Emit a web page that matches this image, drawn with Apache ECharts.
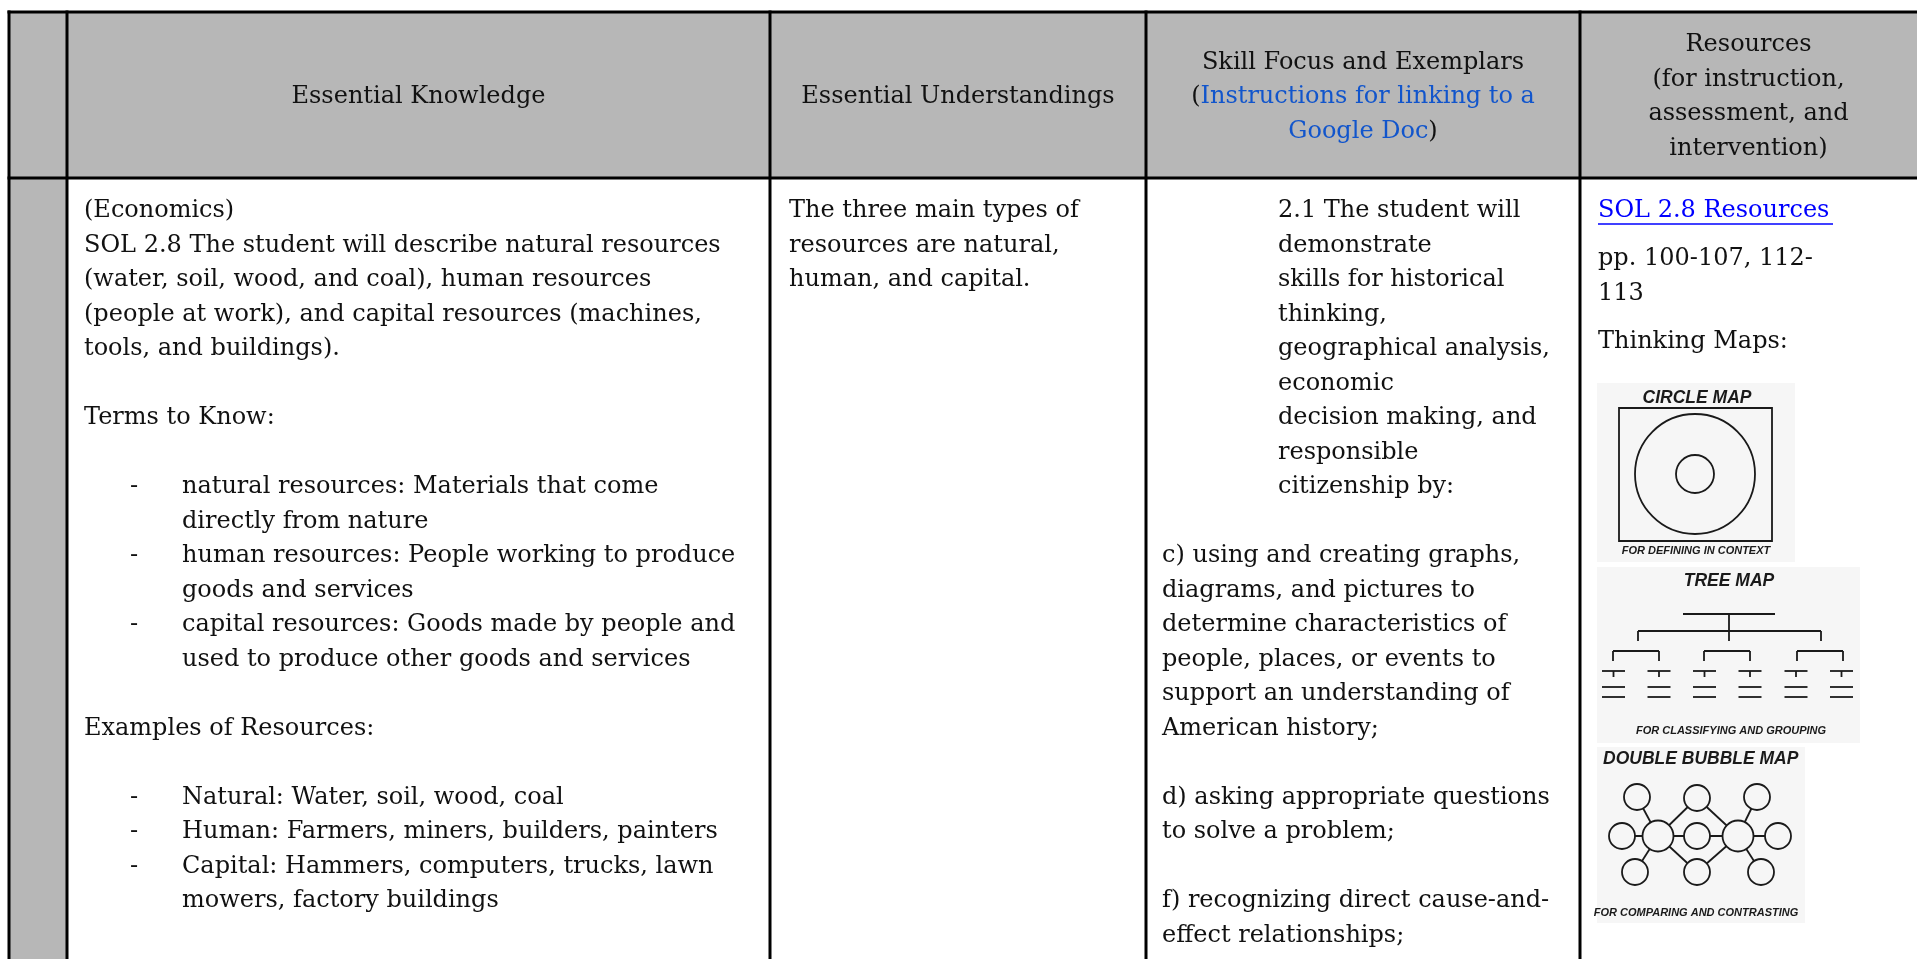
<!DOCTYPE html>
<html><head><meta charset="utf-8">
<script src="https://cdn.jsdelivr.net/npm/echarts@6/dist/echarts.min.js"></script>
<style>html,body{margin:0;padding:0;background:#fff;}#c{width:1917px;height:959px;}</style>
</head><body><div id="c"></div>
<script>
// ---------- content ----------
const headerKnowledge = ['Essential Knowledge'];
const headerUnderstanding = ['Essential Understandings'];
const headerSkill = ['Skill Focus and Exemplars', '({link|Instructions for linking to a}', '{link|Google Doc})'];
const headerResources = ['Resources', '(for instruction,', 'assessment, and', 'intervention)'];

const knowledgeIntro = ['(Economics)', 'SOL 2.8 The student will describe natural resources',
  '(water, soil, wood, and coal), human resources',
  '(people at work), and capital resources (machines,', 'tools, and buildings).'];
const termsTitle = 'Terms to Know:';
const terms = [
  ['natural resources: Materials that come', 'directly from nature'],
  ['human resources: People working to produce', 'goods and services'],
  ['capital resources: Goods made by people and', 'used to produce other goods and services']
];
const examplesTitle = 'Examples of Resources:';
const examples = [
  ['Natural: Water, soil, wood, coal'],
  ['Human: Farmers, miners, builders, painters'],
  ['Capital: Hammers, computers, trucks, lawn', 'mowers, factory buildings']
];

const understandingLines = ['The three main types of', 'resources are natural,', 'human, and capital.'];

const skillIntro = ['2.1 The student will', 'demonstrate', 'skills for historical', 'thinking,',
  'geographical analysis,', 'economic', 'decision making, and', 'responsible', 'citizenship by:'];
const skillItems = [
  ['c) using and creating graphs,', 'diagrams, and pictures to', 'determine characteristics of',
   'people, places, or events to', 'support an understanding of', 'American history;'],
  ['d) asking appropriate questions', 'to solve a problem;'],
  ['f) recognizing direct cause-and-', 'effect relationships;']
];

const resourceLink = 'SOL 2.8 Resources ';
const resourcePages = ['pp. 100-107, 112-', '113'];
const resourceMapsTitle = 'Thinking Maps:';
const mapTitles = ['CIRCLE MAP', 'TREE MAP', 'DOUBLE BUBBLE MAP'];
const mapCaptions = ['FOR DEFINING IN CONTEXT', 'FOR CLASSIFYING AND GROUPING', 'FOR COMPARING AND CONTRASTING'];

// ---------- layout / style ----------
const W = 1917, H = 959;
const colX = [9, 67, 770, 1146, 1580];
const topY = 12, headY = 178;
const GRAY = '#b7b7b7', INK = '#111111', LINK_HDR = '#1155cc', LINK = '#0000ff';
const FONT = "'DejaVu Serif', serif";
const FS = 24, L = 34.5, Y0 = 211;
const MAPFONT = "'Liberation Sans', Arial, sans-serif";

const els = [];
function txt(x, y, text, opt) {
  opt = opt || {};
  els.push({
    type: 'text', x: x, y: y, z: 5,
    style: Object.assign({
      text: text, fill: INK, font: FS + 'px ' + FONT,
      align: opt.align || 'left', verticalAlign: 'middle'
    }, opt.style || {})
  });
}
function line(x1, y1, x2, y2, w, c, z) {
  els.push({type: 'line', z: z || 10, shape: {x1: x1, y1: y1, x2: x2, y2: y2},
    style: {stroke: c || '#000', lineWidth: w || 3}});
}

// backgrounds
els.push({type: 'rect', z: 1, shape: {x: colX[0], y: topY, width: W - colX[0], height: headY - topY}, style: {fill: GRAY}});
els.push({type: 'rect', z: 1, shape: {x: colX[0], y: headY, width: colX[1] - colX[0], height: H - headY}, style: {fill: GRAY}});

// grid lines
line(colX[0] - 1.5, topY, W, topY, 3);
line(colX[0] - 1.5, headY, W, headY, 3);
colX.forEach(x => line(x, topY - 1.5, x, H, 3));

// headers
const headMid = (topY + headY) / 2 + 2;
function headBlock(lines, cx) {
  const n = lines.length;
  lines.forEach((s, i) => {
    els.push({
      type: 'text', x: cx, y: headMid + (i - (n - 1) / 2) * L, z: 5,
      style: {
        text: s, fill: INK, font: FS + 'px ' + FONT, align: 'center', verticalAlign: 'middle',
        rich: {link: {fill: LINK_HDR, fontSize: FS, fontFamily: FONT}}
      }
    });
  });
}
headBlock(headerKnowledge, (colX[1] + colX[2]) / 2);
headBlock(headerUnderstanding, (colX[2] + colX[3]) / 2);
headBlock(headerSkill, (colX[3] + colX[4]) / 2);
headBlock(headerResources, (colX[4] + W) / 2);

// column 1
const c1x = 84, dashX = 130, bulletX = 182;
let slot = 0;
knowledgeIntro.forEach(s => { txt(c1x, Y0 + slot * L, s); slot++; });
slot++;
txt(c1x, Y0 + slot * L, termsTitle); slot += 2;
terms.forEach(item => {
  txt(dashX, Y0 + slot * L, '-');
  item.forEach(s => { txt(bulletX, Y0 + slot * L, s); slot++; });
});
slot++;
txt(c1x, Y0 + slot * L, examplesTitle); slot += 2;
examples.forEach(item => {
  txt(dashX, Y0 + slot * L, '-');
  item.forEach(s => { txt(bulletX, Y0 + slot * L, s); slot++; });
});

// column 2
understandingLines.forEach((s, i) => txt(789, Y0 + i * L, s));

// column 3
skillIntro.forEach((s, i) => txt(1278, Y0 + i * L, s));
slot = skillIntro.length + 1;
skillItems.forEach(item => {
  item.forEach(s => { txt(1162, Y0 + slot * L, s); slot++; });
  slot++;
});

// column 4
const c4x = 1598;
txt(c4x, Y0, resourceLink, {style: {fill: LINK}});
(function () {
  const cv = document.createElement('canvas').getContext('2d');
  cv.font = FS + 'px ' + FONT;
  const w = cv.measureText(resourceLink).width;
  line(c4x, Y0 + 13, c4x + w - 4, Y0 + 13, 1.5, LINK, 6);
})();
txt(c4x, Y0 + 48, resourcePages[0]);
txt(c4x, Y0 + 48 + L, resourcePages[1]);
txt(c4x, Y0 + 131, resourceMapsTitle);

// ---------- thinking map illustrations ----------
const STK = '#1a1a1a', MAPBG = '#f6f6f6';
function mapText(ox, oy, x, y, s, size, align) {
  els.push({type: 'text', x: ox + x, y: oy + y, z: 8,
    style: {text: s, fill: STK, font: 'italic bold ' + size + 'px ' + MAPFONT,
      align: align || 'center', verticalAlign: 'middle'}});
}
function mline(ox, oy, x1, y1, x2, y2) { line(ox + x1, oy + y1, ox + x2, oy + y2, 1.8, STK, 7); }
function mcircle(ox, oy, cx, cy, r) {
  els.push({type: 'circle', z: 8, shape: {cx: ox + cx, cy: oy + cy, r: r},
    style: {fill: MAPBG, stroke: STK, lineWidth: 1.8}});
}
function mbg(ox, oy, w, h) {
  els.push({type: 'rect', z: 2, shape: {x: ox, y: oy, width: w, height: h}, style: {fill: MAPBG}});
}

// circle map
(function () {
  const ox = 1597, oy = 383;
  mbg(ox, oy, 198, 179);
  mapText(ox, oy, 100, 15, mapTitles[0], 17.5);
  els.push({type: 'rect', z: 7, shape: {x: ox + 22, y: oy + 25, width: 153, height: 133},
    style: {fill: 'none', stroke: STK, lineWidth: 1.8}});
  mcircle(ox, oy, 98, 91, 60);
  mcircle(ox, oy, 98, 91, 19);
  mapText(ox, oy, 99, 168, mapCaptions[0], 11);
})();

// tree map
(function () {
  const ox = 1597, oy = 567;
  mbg(ox, oy, 263, 176);
  mapText(ox, oy, 132, 14, mapTitles[1], 17.5);
  mline(ox, oy, 86, 47, 178, 47);
  mline(ox, oy, 132, 47, 132, 74);
  mline(ox, oy, 41, 64, 224, 64);
  mline(ox, oy, 41, 64, 41, 74);
  mline(ox, oy, 224, 64, 224, 74);
  [[16, 62], [107, 153], [200, 246]].forEach(b => {
    mline(ox, oy, b[0], 84, b[1], 84);
    mline(ox, oy, b[0], 84, b[0], 94);
    mline(ox, oy, b[1], 84, b[1], 94);
  });
  [16.5, 62, 107.5, 153, 199, 244.5].forEach(c => {
    mline(ox, oy, c - 11.5, 104, c + 11.5, 104);
    mline(ox, oy, c, 104, c, 110);
    mline(ox, oy, c - 11.5, 120, c + 11.5, 120);
    mline(ox, oy, c - 11.5, 130, c + 11.5, 130);
  });
  mapText(ox, oy, 134, 164, mapCaptions[1], 11);
})();

// double bubble map
(function () {
  const ox = 1597, oy = 747;
  mbg(ox, oy, 208, 176);
  mapText(ox, oy, 6, 12, mapTitles[2], 17.5, 'left');
  const big = [[61, 89], [141, 89]];
  const shared = [[100, 51], [100, 89], [100, 125]];
  const leftOnly = [[40, 50], [25, 89], [38, 125]];
  const rightOnly = [[160, 50], [181, 89], [164, 125]];
  leftOnly.concat(shared).forEach(p => mline(ox, oy, big[0][0], big[0][1], p[0], p[1]));
  rightOnly.concat(shared).forEach(p => mline(ox, oy, big[1][0], big[1][1], p[0], p[1]));
  leftOnly.concat(shared, rightOnly).forEach(p => mcircle(ox, oy, p[0], p[1], 13));
  big.forEach(p => mcircle(ox, oy, p[0], p[1], 15.5));
  mapText(ox, oy, 99, 166, mapCaptions[2], 11);
})();

const chart = echarts.init(document.getElementById('c'), null, {renderer: 'canvas', width: W, height: H});
chart.setOption({backgroundColor: '#ffffff', animation: false, graphic: {elements: els}});
</script></body></html>
